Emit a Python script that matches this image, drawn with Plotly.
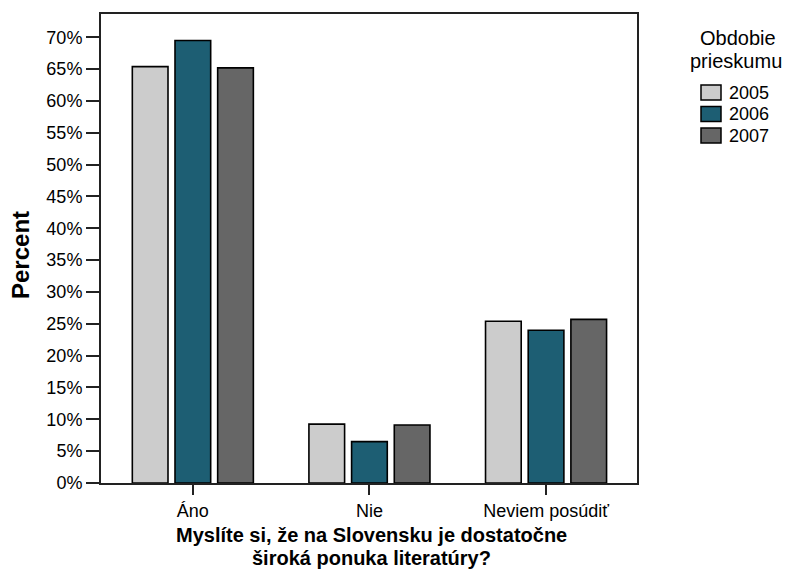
import plotly.graph_objects as go

categories = ["Áno", "Nie", "Neviem posúdiť"]
years = ["2005", "2006", "2007"]
values_2005 = [65.4, 9.25, 25.4]
values_2006 = [69.5, 6.5, 24.0]
values_2007 = [65.2, 9.1, 25.7]
series = [values_2005, values_2006, values_2007]
colors = ["#cccccc", "#1d5e73", "#666666"]
y_ticks = list(range(0, 75, 5))
y_tick_labels = [f"{v}%" for v in y_ticks]
x_title_lines = ["Myslíte si, že na Slovensku je dostatočne", "široká ponuka literatúry?"]
y_title = "Percent"
legend_title_lines = ["Obdobie", "prieskumu"]

FONT = "Liberation Sans, Arial, sans-serif"

# the page body has an 8px margin, so the figure is drawn 8px in from the top-left
OFF = 8
W, H = 803 - OFF, 570 - OFF
# plot area in page pixels: x 101..637, y 14..483
L, T = 101 - OFF, 14 - OFF
R = W - (637 - OFF)
B = H - (483 - OFF)
PW, PH = W - L - R, H - T - B

fig = go.Figure()
for name, vals, col in zip(years, series, colors):
    fig.add_trace(go.Bar(
        x=categories, y=vals, name=name,
        marker=dict(color=col, line=dict(color="#000000", width=1.6)),
    ))

def px_x(p):
    return (p - OFF - L) / PW

def px_y(p):
    return (H - B - (p - OFF)) / PH

annotations = [
    dict(text=f"<b>{x_title_lines[0]}</b>", xref="paper", yref="paper",
         x=px_x(371), y=px_y(535), xanchor="center", yanchor="middle",
         showarrow=False, borderpad=0,
         font=dict(size=20, family=FONT, color="#000")),
    dict(text=f"<b>{x_title_lines[1]}</b>", xref="paper", yref="paper",
         x=px_x(371), y=px_y(558), xanchor="center", yanchor="middle",
         showarrow=False, borderpad=0,
         font=dict(size=20, family=FONT, color="#000")),
    dict(text=f"<b>{y_title}</b>", xref="paper", yref="paper",
         x=px_x(21), y=px_y(255), xanchor="center", yanchor="middle",
         textangle=-90, showarrow=False,
         font=dict(size=24, family=FONT, color="#000")),
    dict(text=legend_title_lines[0], xref="paper", yref="paper",
         x=px_x(738), y=px_y(38), xanchor="center", yanchor="middle",
         showarrow=False, borderpad=0,
         font=dict(size=20, family=FONT, color="#000")),
    dict(text=legend_title_lines[1], xref="paper", yref="paper",
         x=px_x(736), y=px_y(61), xanchor="center", yanchor="middle",
         showarrow=False, borderpad=0,
         font=dict(size=20, family=FONT, color="#000")),
]

shapes = []
row_centers = [92.5, 114, 135.5]
for name, col, yc in zip(years, colors, row_centers):
    shapes.append(dict(
        type="rect", xref="paper", yref="paper",
        x0=px_x(701), x1=px_x(721), y0=px_y(yc - 7.5), y1=px_y(yc + 7.5),
        fillcolor=col, line=dict(color="#000000", width=1.5),
    ))
    annotations.append(dict(
        text=name, xref="paper", yref="paper",
        x=px_x(728), y=px_y(yc), xanchor="left", yanchor="middle",
        showarrow=False, borderpad=0,
        font=dict(size=18, family=FONT, color="#000"),
    ))

fig.update_layout(
    template="none",
    width=W, height=H,
    margin=dict(l=L, r=R, t=T, b=B, autoexpand=False),
    paper_bgcolor="white", plot_bgcolor="white",
    barmode="group", bargap=0.275, bargroupgap=0.164,
    font=dict(family=FONT, size=18, color="#000000"),
    showlegend=False,
    annotations=annotations,
    shapes=shapes,
    xaxis=dict(
        range=[-0.52, 2.515], automargin=False,
        showline=True, linecolor="#222222", linewidth=2, mirror=True,
        ticks="outside", ticklen=10, tickwidth=2, tickcolor="#222222",
        tickfont=dict(size=18),
        showgrid=False, zeroline=False,
    ),
    yaxis=dict(
        range=[0, 73.66], automargin=False,
        tickvals=y_ticks, ticktext=y_tick_labels,
        showline=True, linecolor="#222222", linewidth=2, mirror=True,
        ticks="outside", ticklen=13, tickwidth=2, tickcolor="#222222",
        tickfont=dict(size=18),
        showgrid=False, zeroline=False,
    ),
)

fig.write_html("out.html")
